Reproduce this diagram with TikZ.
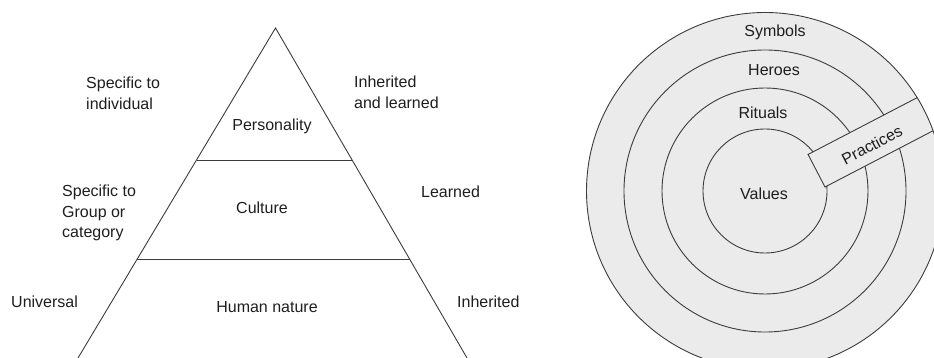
\documentclass[tikz,border=0pt]{standalone}
\usepackage{fontspec}
\setmainfont{Liberation Sans}
\usepackage{xcolor}
\usetikzlibrary{calc}

\definecolor{ringfill}{HTML}{EBEBEB}
\definecolor{inkdark}{HTML}{1E1E1E}
\definecolor{linegray}{HTML}{3C3C3C}

\begin{document}
\begin{tikzpicture}[
  x=1pt, y=-1pt,
  every node/.style={font=\fontsize{16}{20.7}\selectfont, text=inkdark, inner sep=0pt},
  side/.style={anchor=west, align=left},
  layer/.style={anchor=center, align=center},
  edge/.style={draw=linegray, line width=0.9pt},
  ring/.style={draw=linegray, line width=0.9pt},
]
\useasboundingbox (0,0) rectangle (934,358);
\clip (0,0) rectangle (934,358);

% Pyramid
\coordinate (apex) at (275.5,28);
\coordinate (bl) at (78,358);
\coordinate (br) at (467,358);
\draw[edge] (bl) -- (apex) -- (br);
\draw[edge] ($(apex)!0.4!(bl)$) -- ($(apex)!0.4!(br)$);
\draw[edge] ($(apex)!0.7!(bl)$) -- ($(apex)!0.7!(br)$);

% Layer names
\node[layer] (personality) at (272,126) {Personality};
\node[layer] (culture) at (262,208) {Culture};
\node[layer] (human) at (267,307) {Human nature};

% Left side
\node[side] (spind) at (86,93) {Specific to\\individual};
\node[side] (spgrp) at (62,213) {Specific to\\Group or\\category};
\node[side] (univ) at (11,302) {Universal};

% Right side
\node[side] (inhlrn) at (354,92) {Inherited\\and learned};
\node[side] (lrn) at (421,192) {Learned};
\node[side] (inh) at (457,302) {Inherited};

% Onion
\coordinate (core) at (765,191);
\fill[ringfill] (core) circle[radius=178.5];
\draw[ring] (core) circle[radius=141];
\draw[ring] (core) circle[radius=103];
\draw[ring] (core) circle[radius=62];

% Practices band, kept inside the outer ring
\begin{scope}
  \clip (core) circle[radius=178.5];
  \draw[ring, fill=ringfill, rotate around={27.5:(825,187)}]
    (825,187) rectangle ++(160,-36.7);
\end{scope}
\draw[ring] (core) circle[radius=178.5];

\node[layer] (symbols) at (775,32) {Symbols};
\node[layer] (heroes) at (774,70) {Heroes};
\node[layer] (rituals) at (763,113) {Rituals};
\node[layer] (values) at (764,194) {Values};
\node[layer, rotate=27.5] (practices) at (872,145) {Practices};

\end{tikzpicture}
\end{document}
